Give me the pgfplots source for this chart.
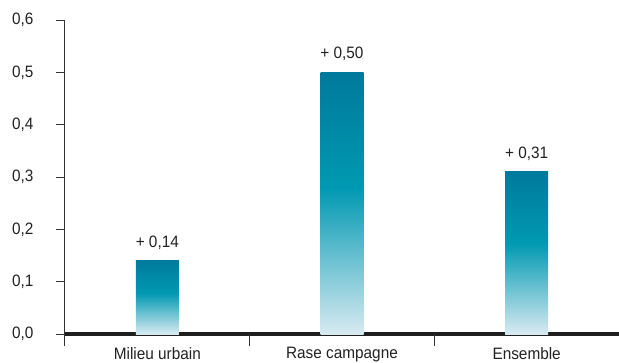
\documentclass[border=0pt]{standalone}
\usepackage{fontspec}
\setmainfont{Liberation Sans}[FakeStretch=0.93]
\usepackage{pgfplots}
\pgfplotsset{compat=1.18}
\definecolor{bardark}{HTML}{007A9C}
\definecolor{barmid}{HTML}{0099B2}
\definecolor{barlight}{HTML}{D8EAF1}
\definecolor{txt}{HTML}{222222}
\definecolor{axcol}{HTML}{333333}
\pgfdeclareverticalshading{barshade}{100bp}{color(0bp)=(barlight); color(25bp)=(barlight); color(53bp)=(barmid); color(75bp)=(bardark); color(100bp)=(bardark)}
\begin{document}
\begin{tikzpicture}
\begin{axis}[
  name=ax,
  scale only axis,
  width=554pt, height=314pt,
  ymin=0, ymax=0.6,
  xmin=-0.5, xmax=2.5,
  axis lines=left,
  axis line style={-, axcol, line width=1pt},
  x axis line style={-, black!88, line width=4.5pt},
  ybar, bar width=43pt, bar shift=0pt,
  ytick={0,0.1,0.2,0.3,0.4,0.5,0.6},
  yticklabel style={/pgf/number format/fixed, /pgf/number format/fixed zerofill, /pgf/number format/precision=1, /pgf/number format/use comma, xshift=-19pt},
  /pgf/number format/assume math mode=true,
  ytick style={axcol, line width=1pt},
  tick align=outside,
  major tick length=9pt,
  xtick={0,1,2},
  xticklabels={Milieu urbain, Rase campagne, Ensemble},
  xtick style={draw=none},
  extra x ticks={-0.5,0.5,1.5},
  extra x tick labels={},
  extra x tick style={xtick style={draw=axcol, line width=1pt}, major tick length=12pt},
  tick label style={font=\fontsize{16.5}{19}\selectfont, text=txt},
  xticklabel style={yshift=-1pt},
  nodes near coords={+ \pgfmathprintnumber[fixed,fixed zerofill,precision=2,use comma]{\pgfplotspointmeta}},
  nodes near coords style={font=\fontsize{16.5}{19}\selectfont, text=txt, yshift=8pt},
  clip=false,
]
\addplot[draw=none, shading=barshade] coordinates {(0,0.14)};
\addplot[draw=none, shading=barshade] coordinates {(1,0.50)};
\addplot[draw=none, shading=barshade] coordinates {(2,0.31)};
\end{axis}
\pgfresetboundingbox
\path ([xshift=-65pt,yshift=-28pt]ax.south west) rectangle ([yshift=20pt]ax.north east);
\end{tikzpicture}
\end{document}
